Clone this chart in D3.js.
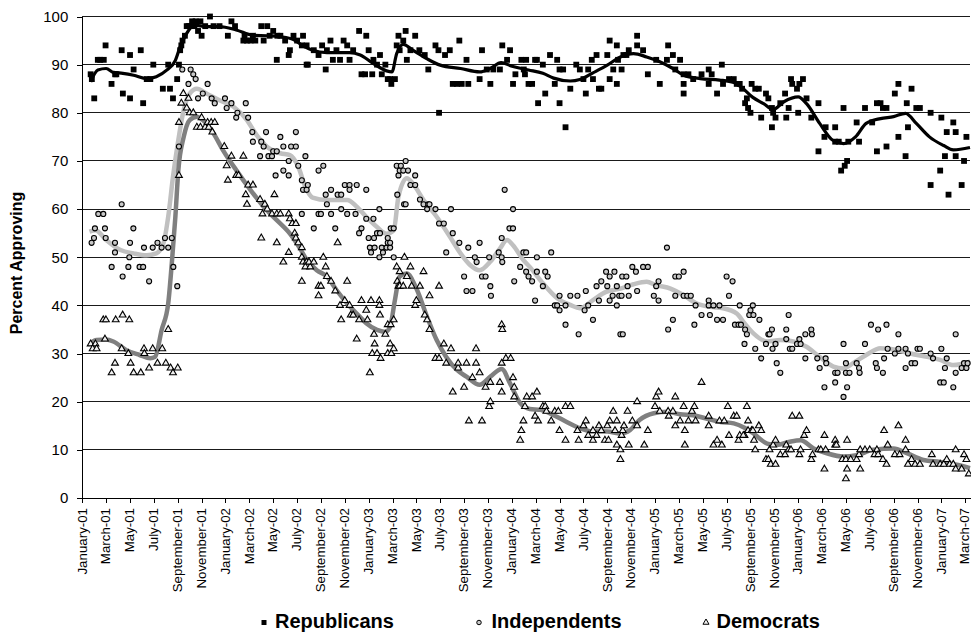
<!DOCTYPE html>
<html><head><meta charset="utf-8">
<script src="https://cdn.jsdelivr.net/npm/d3@7"></script>
<style>body{margin:0;background:#fff;} svg{display:block;font-family:"Liberation Sans",Arial,sans-serif;}</style>
</head><body><svg id="chart" width="971" height="632"></svg>
<script>
// x values are months since January 2001; y values are percent approving
const tickLabels = ["January-01","March-01","May-01","July-01","September-01","November-01",
"January-02","March-02","May-02","July-02","September-02","November-02",
"January-03","March-03","May-03","July-03","September-03","November-03",
"January-04","March-04","May-04","July-04","September-04","November-04",
"January-05","March-05","May-05","July-05","September-05","November-05",
"January-06","March-06","May-06","July-06","September-06","November-06",
"January-07","March-07"];
const yTicks = [0,10,20,30,40,50,60,70,80,90,100];

const republicans = [[0.7,88],[0.8,87],[1.0,83],[1.3,91],[1.5,91],[1.8,91],[1.95,94],[2.45,86],[2.75,88],[2.85,88],[3.3,93],[3.4,84],[4.0,92],[4.0,83],[4.3,89],[4.9,93],[5.1,82],[5.4,87],[5.7,87],[5.95,90],[6.75,85],[7.2,90],[7.35,85],[7.6,83],[7.95,87],[8.1,90],[8.2,93],[8.3,94],[8.4,95],[8.6,96],[8.75,98],[8.9,98],[9.0,98],[9.2,99],[9.4,98],[9.5,99],[9.7,97],[9.9,99],[10.0,96],[10.3,98],[10.7,100],[11.0,98],[11.5,98],[12.2,96],[12.5,99],[12.8,98],[13.5,95],[13.6,96],[13.8,95],[14.1,95],[14.3,96],[14.5,95],[15.0,98],[15.2,95],[15.5,98],[15.7,96],[16.0,97],[16.3,91],[16.35,96],[16.6,96],[17.0,95],[17.3,92],[17.4,93],[17.7,96],[18.0,95],[18.4,94],[18.5,96],[18.8,90],[18.8,94],[18.9,90],[19.4,93],[19.8,92],[20.1,94],[20.4,89],[20.5,93],[20.8,95],[21.0,91],[21.3,93],[21.6,91],[21.9,95],[22.2,94],[22.4,91],[22.7,93],[23.2,97],[23.4,88],[23.7,88],[23.8,96],[24.0,93],[24.3,88],[24.4,91],[24.7,90],[24.95,92],[25.1,88],[25.4,90],[25.6,87],[25.8,87],[25.9,86],[26.2,87],[26.35,94],[26.5,96],[26.6,93],[26.9,95],[27.1,97],[27.2,91],[27.5,93],[27.9,96],[28.25,93],[28.7,92],[29.0,89],[29.6,94],[29.85,93],[29.9,80],[30.4,92],[30.8,93],[31.05,86],[31.4,86],[31.6,95],[31.8,86],[32.2,91],[32.35,86],[33.3,87],[33.5,93],[33.9,89],[34.2,86],[34.45,89],[35.0,89],[35.2,94],[35.6,91],[35.85,93],[36.1,86],[36.3,88],[36.8,91],[37.0,89],[37.1,88],[37.2,91],[37.4,86],[37.7,86],[37.95,91],[38.1,91],[38.2,82],[38.6,90],[38.8,84],[39.2,92],[39.6,86],[39.8,91],[40.0,89],[40.3,89],[40.0,82],[40.5,77],[40.9,85],[41.4,90],[41.7,89],[42.0,87],[42.2,84],[42.4,89],[42.7,91],[42.8,87],[43.1,92],[43.3,85],[43.5,85],[44.0,92],[44.2,95],[44.2,87],[44.5,89],[44.8,94],[44.8,86],[44.9,91],[45.2,89],[45.35,92],[45.6,92],[45.8,93],[46.5,96],[46.5,94],[47.0,93],[47.4,88],[48.1,91],[48.4,86],[49.0,91],[49.1,94],[49.5,92],[49.7,89],[50.1,91],[50.4,88],[50.4,86],[50.4,84],[50.8,88],[51.2,87],[51.9,88],[52.5,89],[52.5,86],[52.75,88],[53.2,84],[53.6,90],[53.7,86],[54.2,87],[54.6,87],[54.85,86],[55.1,86],[55.3,85],[55.55,82],[55.7,83],[55.8,81],[56.0,80],[56.1,86],[56.4,85],[56.7,85],[56.9,79],[57.3,84],[57.5,83],[57.8,81],[57.8,77],[57.9,80],[58.1,79],[58.5,82],[58.9,84],[59.0,79],[59.2,81],[59.4,87],[59.5,86],[59.9,85],[60.0,80],[60.1,86],[60.4,87],[60.7,83],[61.1,79],[61.7,82],[61.7,72],[62.2,75],[62.3,77],[63.1,77],[63.1,74],[63.4,74],[63.6,68],[63.8,81],[63.9,69],[64.1,70],[64.2,74],[64.9,78],[65.1,74],[65.6,81],[66.2,78],[66.6,82],[66.6,72],[66.9,82],[67.1,81],[67.4,81],[67.4,73],[68.1,84],[68.4,86],[68.4,75],[69.0,71],[69.1,82],[69.2,77],[69.5,85],[69.9,81],[70.2,81],[71.1,80],[71.1,65],[71.9,68],[72.0,79],[72.3,71],[72.45,76],[72.6,63],[73.0,78],[73.2,76],[73.2,71],[73.7,65],[73.9,70],[74.1,75]];

const independents = [[0.78,53],[0.98,54],[1.06,56],[1.34,59],[1.76,59],[1.9,56],[1.96,54],[2.46,48],[2.74,53],[2.74,51],[3.3,61],[3.38,46],[3.86,48],[3.94,50],[4.0,53],[4.28,56],[4.8,48],[5.1,48],[5.17,52],[5.6,45],[5.9,52],[6.3,53],[6.65,52],[6.93,54],[7.2,52],[7.5,54],[7.63,48],[7.96,44],[8.1,73],[8.38,89],[8.9,86],[9.08,89],[9.3,88],[9.5,87],[9.7,83],[10.1,84],[10.5,86],[10.84,83],[11.1,82],[11.96,83],[12.1,81],[12.5,82],[12.9,79],[13.0,80],[13.7,82],[13.9,79],[14.25,76],[14.3,74],[14.9,71],[15.0,74],[15.2,73],[15.4,76],[15.6,71],[15.9,71],[16.0,72],[16.3,72],[16.2,67],[16.6,75],[16.85,73],[16.85,68],[17.3,67],[17.3,70],[17.5,73],[17.9,73],[17.9,76],[18.1,69],[18.4,66],[18.5,64],[18.8,64],[18.4,59],[18.7,71],[18.9,65],[19.4,56],[19.8,68],[19.8,59],[20.0,59],[20.2,69],[20.4,63],[20.5,61],[20.85,64],[20.85,59],[21.2,56],[21.4,63],[21.7,63],[21.7,60],[22.0,65],[22.4,65],[23.0,65],[22.2,59],[22.4,64],[22.9,59],[23.2,55],[23.4,56],[23.8,64],[23.8,58],[24.4,58],[24.9,60],[24.0,54],[24.1,52],[24.2,51],[24.45,54],[24.7,55],[24.95,55],[24.5,52],[24.9,50],[25.1,52],[25.2,51],[25.5,52],[25.6,53],[25.8,52],[25.8,53],[25.6,54],[25.85,56],[26.1,56],[26.1,50],[26.35,69],[26.4,63],[26.5,67],[26.6,68],[26.7,69],[27.1,70],[26.9,68],[27.3,68],[27.5,65],[27.9,67],[27.9,65],[26.97,61],[27.1,61],[28.3,62],[28.6,61],[28.9,60],[29.0,61],[29.1,61],[29.6,60],[29.9,57],[30.3,57],[30.5,51],[30.9,60],[31.05,55],[31.6,53],[32.0,46],[32.35,52],[32.2,43],[32.7,43],[32.9,50],[33.05,49],[33.3,53],[33.5,46],[33.8,46],[34.1,50],[34.2,44],[34.25,42],[34.9,51],[35.15,54],[35.15,50],[35.2,49],[35.4,64],[35.8,56],[36.1,56],[36.1,60],[36.2,45],[36.7,48],[36.97,51],[37.2,51],[37.2,47],[37.4,46],[37.7,45],[37.95,41],[38.1,50],[38.1,47],[38.6,44],[38.8,47],[39.0,46],[39.3,51],[39.6,40],[39.8,40],[40.0,42],[40.0,39],[40.5,40],[40.5,36],[40.9,42],[41.5,42],[41.6,34],[42.1,39],[42.2,43],[42.4,40],[42.8,37],[43.1,44],[43.3,41],[43.5,45],[43.9,47],[44.0,44],[44.2,46],[44.6,47],[44.2,41],[44.45,42],[44.8,44],[44.8,40],[45.0,42],[45.2,42],[45.1,34],[45.3,34],[45.25,46],[45.6,46],[45.7,44],[45.8,42],[46.1,48],[46.4,47],[46.5,43],[47.0,48],[47.4,48],[47.9,42],[48.1,44],[48.3,45],[48.3,41],[49.0,52],[49.1,35],[49.5,37],[49.7,46],[50.0,46],[50.4,47],[49.7,42],[50.4,42],[50.7,42],[51.0,42],[51.4,40],[51.3,36],[51.9,38],[52.5,41],[52.5,40],[52.9,40],[53.4,40],[52.6,38],[53.2,37],[53.7,37],[54.0,46],[54.2,42],[54.5,45],[54.7,36],[55.0,36],[55.1,40],[55.2,36],[55.5,32],[55.55,35],[55.7,34],[55.9,38],[56.0,39],[56.2,40],[56.25,38],[56.4,31],[56.75,37],[56.9,29],[57.3,32],[57.5,34],[57.8,35],[57.6,34],[57.85,31],[58.1,32],[58.2,28],[58.5,26],[59.0,35],[59.0,33],[59.2,38],[59.3,31],[59.5,31],[59.9,32],[60.2,32],[60.1,33],[60.6,34],[61.1,35],[61.15,34],[60.6,29],[61.6,29],[61.8,27],[62.2,23],[62.3,29],[62.35,28],[63.1,26],[63.3,26],[63.1,24],[63.8,32],[63.8,21],[64.0,28],[64.0,26],[64.3,26],[64.1,23],[64.9,28],[65.1,27],[65.15,26],[65.6,32],[66.1,36],[66.7,35],[67.4,36],[66.5,28],[66.6,27],[67.1,26],[67.2,29],[67.5,31],[68.1,30],[68.4,31],[68.4,34],[69.0,27],[69.0,31],[69.2,30],[69.5,28],[69.8,28],[70.0,31],[70.2,31],[71.1,30],[71.3,29],[71.9,24],[72.2,24],[72.0,31],[72.3,27],[72.45,29],[73.0,23],[73.2,34],[73.2,26],[73.7,27],[73.9,28],[74.1,27],[74.2,28]];

const democrats = [[0.7,32],[1.1,32],[0.87,31],[1.2,31],[1.76,37],[1.98,37],[1.9,33],[2.46,26],[2.74,28],[2.8,37],[3.3,31],[3.38,38],[3.94,37],[3.86,30],[4.05,28],[4.3,26],[4.9,26],[5.17,31],[5.2,30],[5.6,27],[5.9,31],[6.3,28],[6.7,31],[7.0,28],[7.2,35],[7.4,27],[7.6,26],[8.0,27],[8.1,67],[8.1,78],[8.3,82],[8.47,84],[8.9,83],[8.75,81],[9.0,80],[9.3,80],[9.6,77],[9.9,77],[10.0,79],[10.3,77],[10.5,78],[10.6,77],[10.8,78],[11.1,78],[10.9,76],[11.9,73],[12.1,69],[12.2,66],[12.5,71],[12.9,67],[13.1,67],[13.5,71],[13.7,63],[13.8,61],[13.9,65],[14.3,65],[14.9,62],[15.1,59],[15.0,54],[15.3,61],[15.5,60],[15.9,59],[16.3,59],[16.6,59],[16.1,63],[16.3,53],[16.85,49],[17.3,59],[17.3,51],[17.4,58],[17.6,57],[17.9,57],[17.8,55],[17.9,54],[18.1,53],[18.4,50],[18.4,45],[18.5,49],[18.8,49],[18.7,48],[18.4,52],[19.1,48],[19.0,49],[19.4,49],[19.8,44],[20.0,44],[19.8,42],[20.2,50],[20.4,48],[20.5,46],[20.85,45],[21.2,43],[21.4,53],[21.6,40],[22.0,41],[22.4,40],[21.7,37],[22.2,45],[22.5,38],[22.7,38],[23.0,33],[23.2,37],[23.4,41],[24.2,41],[24.9,41],[23.8,39],[23.9,37],[24.1,26],[24.3,30],[24.7,30],[24.9,40],[24.95,38],[24.45,34],[24.5,32],[25.0,29],[25.4,34],[25.6,36],[25.85,36],[25.6,30],[25.9,30],[25.8,32],[26.1,31],[26.1,37],[26.35,48],[26.4,45],[26.5,44],[26.6,44],[26.6,47],[27.0,50],[26.9,44],[27.2,46],[27.5,48],[27.6,44],[27.9,40],[28.0,41],[28.3,44],[28.6,47],[28.7,38],[28.9,37],[29.1,35],[29.1,42],[29.6,29],[29.9,29],[29.9,44],[30.3,32],[30.5,28],[30.9,31],[31.05,22],[31.5,27],[31.5,28],[32.0,23],[32.2,28],[32.4,16],[32.7,25],[33.0,31],[33.0,28],[33.3,26],[33.5,16],[33.8,23],[34.1,19],[34.2,20],[34.2,24],[35.0,24],[35.15,22],[35.15,36],[35.2,35],[35.15,28],[35.5,29],[35.9,29],[36.1,25],[36.2,23],[36.2,21],[36.8,14],[36.7,12],[36.97,16],[37.1,19],[37.25,21],[37.7,21],[37.95,17],[38.1,22],[38.2,16],[38.6,19],[38.8,19],[38.9,18],[39.3,16],[39.6,18],[39.9,18],[40.0,14],[40.5,19],[40.5,12],[40.9,19],[41.5,14],[41.6,12],[42.0,15],[42.2,16],[42.4,13],[42.8,14],[42.8,12],[43.1,13],[43.3,15],[43.5,14],[43.8,12],[44.0,15],[44.2,16],[44.5,18],[44.1,12],[44.65,14],[44.8,16],[44.8,11],[45.1,10],[45.1,8],[45.2,13],[45.3,14],[45.4,15],[45.7,18],[45.8,11],[46.1,16],[46.5,20],[46.5,15],[47.1,11],[47.4,14],[48.0,19],[48.1,21],[48.3,22],[48.4,18],[49.1,18],[49.15,17],[49.5,18],[49.7,15],[49.7,21],[50.1,16],[50.4,19],[50.5,14],[50.5,11],[50.8,16],[51.1,18],[51.3,19],[51.4,16],[51.9,24],[52.5,17],[52.5,15],[52.9,11],[53.2,12],[53.6,11],[53.4,16],[53.8,16],[54.1,19],[54.2,13],[54.6,17],[54.85,17],[55.0,12],[55.1,13],[55.5,13],[55.7,19],[55.8,14],[55.4,13],[55.8,16],[56.1,14],[56.2,14],[56.3,12],[56.4,10],[56.7,15],[56.9,14],[57.3,8],[57.5,8],[57.7,7],[58.1,7],[57.6,10],[57.9,11],[58.1,12],[58.5,9],[58.9,9],[59.0,11],[59.2,10],[59.4,10],[59.5,17],[60.1,17],[60.1,9],[60.2,10],[60.5,13],[60.7,14],[61.1,8],[61.2,9],[61.7,10],[61.9,10],[62.2,13],[62.2,6],[62.3,10],[63.1,12],[63.1,11],[63.2,11],[63.7,8],[64.0,8],[64.4,8],[64.0,4],[64.1,12],[64.1,6],[64.9,8],[65.1,9],[65.2,10],[65.2,6],[65.6,10],[66.0,10],[66.6,10],[66.4,9],[66.7,9],[67.1,8],[67.4,7],[67.2,14],[67.5,11],[68.1,9],[68.5,9],[68.4,15],[69.0,12],[69.0,10],[69.2,7],[69.5,8],[69.8,7],[70.2,7],[71.2,9],[71.3,7],[71.9,7],[72.2,7],[72.45,8],[72.7,7],[73.0,7],[73.2,6],[73.2,10],[73.7,6],[73.9,9],[74.1,8],[74.3,5]];

const repTrend = [[0.7,86.4],[1.3,88.9],[2.0,89.2],[2.6,88.4],[3.4,88.2],[4.3,87.8],[5.4,87.1],[6.2,87.5],[7.1,88.9],[7.8,90.9],[8.2,93.7],[8.75,96.5],[9.4,98.2],[10.4,97.9],[11.5,97.9],[12.9,97.2],[14.3,96.1],[15.5,96.0],[16.6,95.8],[17.7,95.2],[18.5,93.9],[19.3,93.0],[20.5,92.5],[22.4,92.5],[23.3,92.0],[24.4,90.2],[25.5,88.7],[25.95,88.5],[26.35,92.3],[26.9,94.2],[27.7,93.0],[28.9,91.2],[30.0,89.9],[31.7,89.2],[33.3,88.5],[34.2,89.2],[35.1,90.4],[36.1,89.6],[37.4,88.9],[38.6,88.2],[39.5,87.2],[40.9,86.6],[41.7,86.9],[42.8,88.3],[44.0,89.9],[45.1,91.6],[46.2,92.3],[47.3,91.6],[48.4,90.6],[49.5,89.2],[50.4,87.8],[51.8,87.1],[53.4,86.8],[54.6,86.3],[55.3,85.2],[56.2,83.2],[57.1,81.9],[57.9,80.7],[58.8,82.3],[60.0,83.3],[60.7,81.9],[61.8,77.8],[62.9,74.3],[63.8,73.6],[64.8,75.0],[65.7,77.8],[66.9,78.8],[68.0,79.2],[69.0,79.9],[69.9,77.8],[71.0,75.0],[72.2,73.2],[73.0,72.3],[74.4,72.8]];

const indTrend = [[0.6,55.3],[1.1,55.6],[2.0,53.6],[3.2,51.5],[4.3,50.8],[5.4,50.4],[6.2,50.8],[6.8,52.9],[7.2,58.4],[7.6,66.7],[8.0,73.6],[8.5,80.6],[9.0,84.0],[9.6,85.0],[10.4,84.0],[11.5,82.6],[12.7,81.2],[13.8,78.5],[14.6,75.4],[15.5,72.9],[16.6,71.6],[17.4,71.2],[18.1,68.8],[18.7,64.6],[19.3,62.4],[20.5,61.9],[22.2,61.9],[23.0,60.5],[23.8,58.4],[24.7,56.3],[25.5,54.9],[26.1,55.6],[26.5,62.6],[27.2,66.4],[27.7,65.3],[28.6,61.9],[29.7,58.4],[30.8,54.3],[31.7,50.8],[32.5,48.4],[33.3,47.3],[34.2,49.1],[35.0,51.8],[35.6,53.6],[36.1,52.5],[36.97,49.4],[37.5,48.0],[38.6,44.6],[39.8,41.5],[40.9,40.1],[41.7,39.4],[42.8,41.1],[43.9,42.8],[45.1,43.5],[46.2,44.4],[47.3,44.9],[48.1,44.2],[49.3,43.5],[50.4,42.1],[51.5,40.4],[52.6,39.7],[53.7,39.4],[54.85,38.3],[55.5,36.3],[56.25,34.2],[57.4,32.5],[58.5,32.8],[59.6,32.5],[60.7,31.4],[61.8,29.3],[62.95,27.3],[63.8,26.9],[64.6,28.0],[65.7,29.7],[66.9,31.1],[68.3,30.7],[69.4,30.0],[70.8,29.3],[71.9,28.7],[73.0,27.6],[74.4,28.3]];

const demTrend = [[0.65,32.1],[1.2,32.8],[2.0,32.9],[2.6,32.5],[3.7,30.7],[4.8,29.7],[5.7,29.0],[6.1,29.3],[6.65,34.9],[7.2,40.4],[7.5,48.7],[7.8,58.4],[8.05,68.1],[8.5,75.0],[9.0,78.5],[9.6,79.2],[10.1,78.5],[11.0,75.7],[11.8,72.2],[12.9,68.1],[14.0,64.3],[15.2,60.5],[16.3,57.7],[17.4,54.9],[18.25,51.8],[18.8,49.5],[19.65,47.3],[20.5,46.0],[21.3,43.2],[22.2,40.4],[23.0,38.3],[23.8,36.3],[24.7,34.9],[25.4,34.5],[25.8,35.6],[26.2,41.1],[26.6,46.0],[27.2,46.6],[28.0,43.5],[28.9,37.6],[29.7,32.8],[30.5,29.3],[31.4,26.6],[32.2,25.2],[33.3,23.5],[34.2,25.2],[35.15,26.8],[35.85,23.8],[36.7,19.7],[37.5,18.5],[38.4,18.3],[39.5,17.2],[40.6,15.8],[41.7,14.5],[42.8,13.8],[44.0,13.8],[45.1,13.4],[45.9,14.1],[46.7,16.2],[47.9,17.6],[49.0,17.9],[50.1,17.4],[51.2,17.2],[52.3,16.5],[53.5,15.8],[54.6,15.5],[55.5,14.6],[56.25,13.4],[57.4,11.3],[58.2,11.0],[59.3,11.7],[60.2,12.0],[61.3,10.3],[62.4,9.3],[63.8,8.6],[64.9,8.9],[66.3,10.0],[68.0,10.3],[69.1,9.3],[70.5,7.9],[71.9,7.5],[73.3,6.9],[74.4,6.2]];

const seriesNames = ["Republicans","Independents","Democrats"];

const svg = d3.select("#chart");
const x = d3.scaleLinear().domain([0, 74.4]).range([82.3, 970]);
const y = d3.scaleLinear().domain([0, 100]).range([498, 16.5]);
const font = '"Liberation Sans", Arial, sans-serif';

// gridlines
svg.append("g").selectAll("line").data(yTicks.filter(d => d > 0)).join("line")
  .attr("x1", x(0)).attr("x2", x.range()[1])
  .attr("y1", d => y(d)).attr("y2", d => y(d))
  .attr("stroke", "#1a1a1a").attr("stroke-width", 1).attr("shape-rendering", "crispEdges");

// y axis
const yAxis = d3.axisLeft(y).tickValues(yTicks).tickSize(5).tickPadding(9);
const gy = svg.append("g").attr("transform", `translate(${x(0)},0)`).call(yAxis);
gy.select(".domain").attr("stroke", "#000").attr("shape-rendering", "crispEdges");
gy.selectAll(".tick line").attr("stroke", "#000").attr("shape-rendering", "crispEdges");
gy.selectAll("text").attr("font-size", 15).attr("font-family", font).attr("fill", "#000");

// x axis
const tickMonths = tickLabels.map((_, i) => i * 2);
const xAxis = d3.axisBottom(x).tickValues(tickMonths).tickSize(5).tickFormat((d, i) => tickLabels[i]).tickSizeOuter(0);
const gx = svg.append("g").attr("transform", `translate(0,${y(0)})`).call(xAxis);
gx.select(".domain").attr("stroke", "#000").attr("shape-rendering", "crispEdges");
gx.selectAll(".tick line").attr("stroke", "#000").attr("shape-rendering", "crispEdges");
gx.selectAll("text")
  .attr("font-size", 13.3).attr("font-family", font).attr("fill", "#000")
  .attr("text-anchor", "end")
  .attr("transform", "rotate(-90)")
  .attr("x", -10).attr("y", 0).attr("dy", "0.28em");

// y title
svg.append("text")
  .attr("transform", "translate(21.5,263) rotate(-90)")
  .attr("text-anchor", "middle")
  .attr("font-family", font).attr("font-size", 16).attr("font-weight", "bold")
  .text("Percent Approving");

// trend lines
const line = d3.line().x(d => x(d[0])).y(d => y(d[1])).curve(d3.curveMonotoneX);
svg.append("path").datum(indTrend).attr("d", line).attr("fill", "none").attr("stroke", "#c0c0c0").attr("stroke-width", 4.5).attr("stroke-linejoin", "round");
svg.append("path").datum(demTrend).attr("d", line).attr("fill", "none").attr("stroke", "#808080").attr("stroke-width", 4.5).attr("stroke-linejoin", "round");
svg.append("path").datum(repTrend).attr("d", line).attr("fill", "none").attr("stroke", "#000").attr("stroke-width", 3.2).attr("stroke-linejoin", "round");

// markers
const sq = d3.symbol().type(d3.symbolSquare).size(34);
const ci = d3.symbol().type(d3.symbolCircle).size(20);
const tr = d3.symbol().type(d3.symbolTriangle).size(20);

svg.append("g").selectAll("path").data(republicans).join("path")
  .attr("d", sq).attr("transform", d => `translate(${x(d[0])},${y(d[1])})`).attr("fill", "#000");
svg.append("g").selectAll("path").data(democrats).join("path")
  .attr("d", tr).attr("transform", d => `translate(${x(d[0])},${y(d[1])})`)
  .attr("fill", "#f0f0f0").attr("stroke", "#000").attr("stroke-width", 1.1);
svg.append("g").selectAll("path").data(independents).join("path")
  .attr("d", ci).attr("transform", d => `translate(${x(d[0])},${y(d[1])})`)
  .attr("fill", "#c8c8c8").attr("stroke", "#000").attr("stroke-width", 1.1);

// legend
const legend = [
  {name: seriesNames[0], sym: d3.symbol().type(d3.symbolSquare).size(25), fill: "#000", stroke: "none", sx: 264, tx: 275},
  {name: seriesNames[1], sym: d3.symbol().type(d3.symbolCircle).size(16), fill: "#c8c8c8", stroke: "#000", sx: 479, tx: 491.5},
  {name: seriesNames[2], sym: d3.symbol().type(d3.symbolTriangle).size(16), fill: "#f0f0f0", stroke: "#000", sx: 706, tx: 716.5}
];
const lg = svg.append("g");
legend.forEach(l => {
  lg.append("path").attr("d", l.sym()).attr("transform", `translate(${l.sx},622.5)`)
    .attr("fill", l.fill).attr("stroke", l.stroke).attr("stroke-width", 1);
  lg.append("text").attr("x", l.tx).attr("y", 628)
    .attr("font-family", font).attr("font-size", 20).attr("font-weight", "bold").text(l.name);
});
</script>
</body></html>
